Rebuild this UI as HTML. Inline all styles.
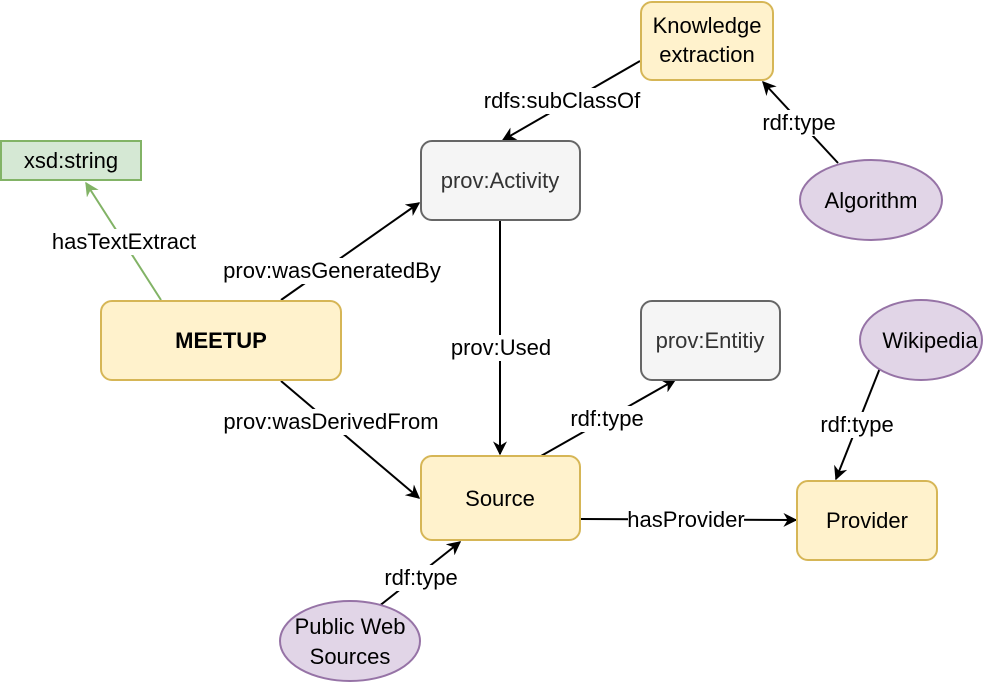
<!DOCTYPE html>
<html><head><meta charset="utf-8"><style>
html,body{margin:0;padding:0;background:#fff;width:1004px;height:684px;overflow:hidden}
svg{display:block}
text{font-family:"Liberation Sans",Helvetica,Arial,sans-serif;font-size:22px;fill:#000}
</style></head><body>
<svg width="1004" height="684" viewBox="0 0 1004 684" xmlns="http://www.w3.org/2000/svg">
<defs>
<marker id="a" viewBox="0 0 10 10" refX="9" refY="5" markerWidth="14" markerHeight="14" markerUnits="userSpaceOnUse" orient="auto"><path d="M0,0 L10,5 L0,10 L3,5 z" fill="#000"/></marker>
<marker id="g" viewBox="0 0 10 10" refX="9" refY="5" markerWidth="14" markerHeight="14" markerUnits="userSpaceOnUse" orient="auto"><path d="M0,0 L10,5 L0,10 L3,5 z" fill="#82b366"/></marker>
</defs>
<g stroke-width="2" fill="none">
<line x1="640" y1="61" x2="503" y2="140" stroke="#000" marker-end="url(#a)"/>
<line x1="838" y1="163" x2="763" y2="82" stroke="#000" marker-end="url(#a)"/>
<line x1="161" y1="300" x2="86" y2="183" stroke="#82b366" marker-end="url(#g)"/>
<line x1="281" y1="300" x2="419" y2="203" stroke="#000" marker-end="url(#a)"/>
<line x1="500" y1="221" x2="500" y2="454" stroke="#000" marker-end="url(#a)"/>
<line x1="281" y1="381" x2="419" y2="498" stroke="#000" marker-end="url(#a)"/>
<line x1="541" y1="456" x2="675" y2="380" stroke="#000" marker-end="url(#a)"/>
<line x1="880" y1="368" x2="836" y2="479" stroke="#000" marker-end="url(#a)"/>
<line x1="581" y1="519" x2="796" y2="520" stroke="#000" marker-end="url(#a)"/>
<line x1="378" y1="607" x2="460" y2="542" stroke="#000" marker-end="url(#a)"/>
</g>
<g fill="#fff">
<rect x="488" y="88" width="150" height="26"/>
<rect x="760" y="110" width="78" height="26"/>
<rect x="50" y="229" width="148" height="26"/>
<rect x="221" y="258" width="222" height="26"/>
<rect x="448" y="335" width="106" height="26"/>
<rect x="221" y="409" width="220" height="26"/>
<rect x="568" y="406" width="78" height="26"/>
<rect x="818" y="412" width="78" height="26"/>
<rect x="628" y="507" width="116" height="26"/>
<rect x="382" y="565" width="78" height="26"/>
</g>
<g stroke-width="2">
<rect x="641" y="2" width="132" height="78" rx="11" fill="#fff2cc" stroke="#d6b656"/>
<rect x="421" y="141" width="159" height="79" rx="11" fill="#f5f5f5" stroke="#666"/>
<rect x="1" y="141" width="140" height="39" fill="#d5e8d4" stroke="#82b366"/>
<ellipse cx="871" cy="200" rx="71" ry="40" fill="#e1d5e7" stroke="#9673a6"/>
<rect x="101" y="301" width="240" height="79" rx="11" fill="#fff2cc" stroke="#d6b656"/>
<rect x="641" y="301" width="139" height="79" rx="11" fill="#f5f5f5" stroke="#666"/>
<ellipse cx="921" cy="340" rx="61" ry="40" fill="#e1d5e7" stroke="#9673a6"/>
<rect x="421" y="456" width="159" height="84" rx="11" fill="#fff2cc" stroke="#d6b656"/>
<rect x="797" y="481" width="140" height="79" rx="11" fill="#fff2cc" stroke="#d6b656"/>
<ellipse cx="350" cy="641" rx="70" ry="40" fill="#e1d5e7" stroke="#9673a6"/>
</g>
<g text-anchor="middle">
<text x="707" y="33">Knowledge</text>
<text x="707" y="62">extraction</text>
<text x="500" y="188" style="fill:#333">prov:Activity</text>
<text x="71" y="168">xsd:string</text>
<text x="871" y="208">Algorithm</text>
<text x="221" y="348" style="font-weight:bold">MEETUP</text>
<text x="710" y="348" style="fill:#333">prov:Entitiy</text>
<text x="930" y="348">Wikipedia</text>
<text x="500" y="506">Source</text>
<text x="867" y="528">Provider</text>
<text x="350" y="634">Public Web</text>
<text x="350" y="664">Sources</text>
<g style="font-size:20px">
<text x="562" y="108">rdfs:subClassOf</text>
<text x="799" y="130">rdf:type</text>
<text x="124" y="249">hasTextExtract</text>
<text x="332" y="278">prov:wasGeneratedBy</text>
<text x="501" y="355">prov:Used</text>
<text x="331" y="429">prov:wasDerivedFrom</text>
<text x="607" y="426">rdf:type</text>
<text x="857" y="432">rdf:type</text>
<text x="686" y="527">hasProvider</text>
<text x="421" y="585">rdf:type</text>
</g>
</g>
</svg>
</body></html>
